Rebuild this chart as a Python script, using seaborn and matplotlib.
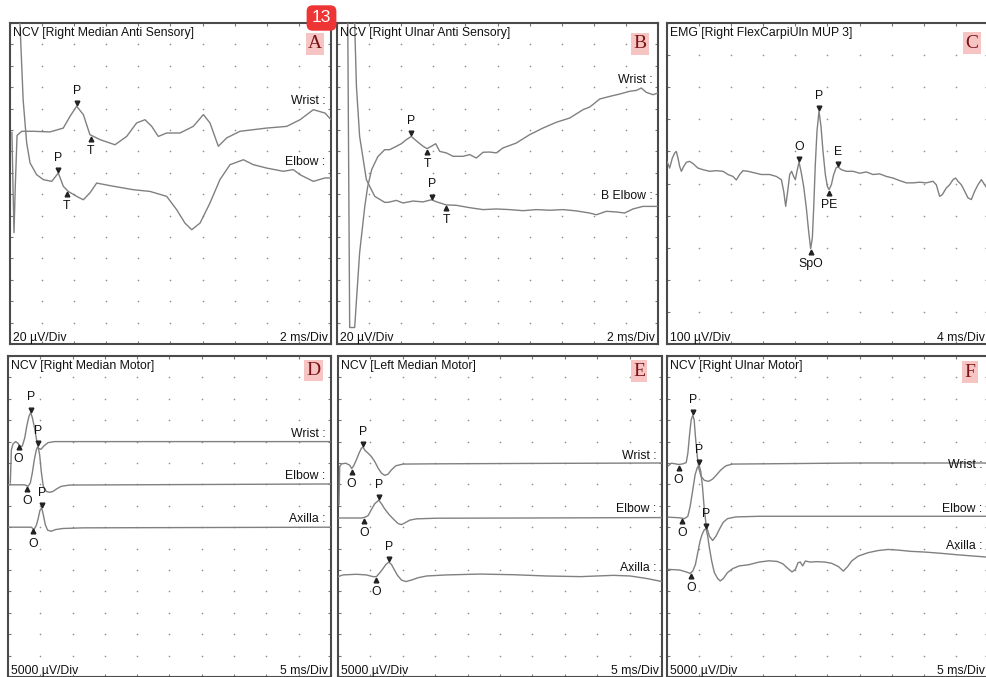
import numpy as np
import pandas as pd
import matplotlib
matplotlib.use("Agg")
import matplotlib.pyplot as plt
import matplotlib.transforms as mtransforms
import seaborn as sns

sns.set_theme(style="white")
plt.rcParams['font.family'] = ['Liberation Sans', 'DejaVu Sans']

# ---------------- DATA (time in ms, amplitude in screen divisions) ----------------
# Panel A: Right Median Anti Sensory (2 ms/Div, 20 uV/Div)
a_wrist_t = [0.12, 0.19, 0.25, 0.33, 0.44, 0.73, 1.45, 2.49, 3.32, 3.74, 4.15, 4.57, 4.98, 5.61, 6.54, 7.27,
             7.89, 8.41, 8.83, 9.24, 9.76, 10.59, 11.42, 12.05, 12.46, 12.98, 13.50, 14.33, 15.99, 17.24,
             18.07, 18.90, 19.63, 20.0]
a_wrist_y = [9.90, 7.2, 5.2, 7.4, 9.75, 9.94, 9.94, 9.91, 10.09, 10.64, 11.11, 10.72, 9.78, 9.55, 9.31, 9.70,
             10.33, 10.48, 10.17, 9.70, 9.86, 9.86, 10.17, 10.72, 10.33, 9.24, 9.63, 9.94, 10.09, 10.17,
             10.48, 10.95, 10.79, 10.48]
a_elbow_t = [0.62, 0.72, 0.82, 0.95, 1.04, 1.25, 1.66, 2.08, 2.60, 3.01, 3.32, 3.63, 4.15, 4.57, 4.98, 5.40,
             6.23, 7.68, 8.72, 9.76, 10.38, 10.90, 11.32, 11.84, 12.46, 13.08, 13.71, 14.54, 15.16, 16.0,
             17.03, 17.65, 18.07, 18.90, 19.63, 20.0]
a_elbow_y = [15.0, 13.2, 11.4, 10.2, 9.39, 8.46, 7.91, 7.68, 7.60, 7.99, 7.37, 7.13, 6.90, 6.74, 7.06, 7.52,
             7.40, 7.21, 7.13, 6.90, 6.28, 5.65, 5.34, 5.65, 6.59, 7.68, 8.38, 8.61, 8.38, 8.22,
             8.07, 8.15, 7.91, 7.60, 7.76, 7.76]
a_chan_names = ['Wrist :', 'Elbow :']
a_chan_y = [11.34, 8.49]
a_mark_t = [4.15, 5.03, 3.01, 3.53]
a_mark_y = [11.11, 9.73, 8.00, 7.18]
a_mark_lbl = ['P', 'T', 'P', 'T']
a_mark_dir = ['v', '^', 'v', '^']

# Panel B: Right Ulnar Anti Sensory (2 ms/Div, 20 uV/Div)
b_wrist_t = [0.67, 0.79, 1.10, 1.41, 1.73, 1.91, 2.16, 2.54, 2.97, 3.28, 3.70, 4.01, 4.32, 4.63, 4.98, 5.36,
             5.61, 5.88, 6.15, 6.40, 6.81, 7.23, 7.85, 8.27, 8.68, 9.10, 9.51, 9.93, 10.34, 11.17, 12.00,
             12.83, 13.66, 14.50, 15.33, 15.74, 16.06, 16.37, 16.99, 17.61, 18.24, 18.65, 18.96, 19.27,
             19.69, 20.0]
b_wrist_y = [15.0, 0.77, 0.77, 4.27, 6.42, 7.35, 8.15, 8.75, 9.08, 9.08, 9.24, 9.36, 9.55, 9.70, 9.47, 9.24,
             9.13, 9.24, 9.36, 9.00, 8.93, 8.77, 8.77, 8.85, 8.69, 8.96, 8.97, 8.93, 9.16, 9.39, 9.78,
             10.09, 10.36, 10.56, 10.95, 11.07, 11.26, 11.45, 11.57, 11.68, 11.81, 11.85, 11.96, 11.76,
             11.65, 11.73]
b_elbow_t = [1.10, 1.21, 1.41, 1.83, 2.35, 2.97, 3.18, 3.70, 4.11, 4.74, 5.36, 5.88, 6.29, 6.81, 7.44, 8.27,
             9.10, 9.93, 10.76, 11.59, 12.42, 13.25, 14.08, 14.91, 15.74, 16.16, 16.78, 17.41, 17.92,
             18.44, 19.06, 20.0]
b_elbow_y = [15.0, 12.04, 9.70, 7.68, 6.90, 6.62, 6.62, 6.71, 6.59, 6.68, 6.64, 6.74, 6.62, 6.50, 6.48, 6.37,
             6.28, 6.31, 6.28, 6.23, 6.28, 6.25, 6.28, 6.22, 6.12, 6.04, 6.20, 6.17, 6.12,
             6.31, 6.43, 6.43]
b_chan_names = ['Wrist :', 'B Elbow :']
b_chan_y = [12.35, 6.90]
b_mark_t = [4.63, 5.61, 5.92, 6.81]
b_mark_y = [9.70, 9.13, 6.74, 6.50]
b_mark_lbl = ['P', 'T', 'P', 'T']
b_mark_dir = ['v', '^', 'v', '^']

# Panel C: EMG Right FlexCarpiUln MUP 3 (4 ms/Div, 100 uV/Div)
c_mup_t = [0.0, 0.33, 0.66, 0.96, 1.16, 1.37, 1.58, 1.79, 2.08, 2.41, 2.82, 3.24, 3.86, 4.49, 5.32, 6.15,
           6.98, 7.60, 8.22, 8.64, 9.05, 9.47, 10.09, 10.92, 11.76, 12.79, 13.62, 14.25, 14.54, 14.79,
           15.04, 15.29, 15.53, 15.78, 15.99, 16.20, 16.45, 16.70, 17.03, 17.36, 17.65, 17.90, 18.11,
           18.28, 18.48, 18.69, 18.94, 19.19, 19.44, 19.73, 19.98, 20.19, 20.48, 20.77, 21.10, 21.35,
           21.72, 22.35, 23.18, 24.01, 24.84, 25.67, 26.50, 27.33, 28.16, 28.99, 29.82, 30.65, 31.48,
           32.31, 33.14, 33.56, 33.97, 34.30, 34.80, 35.22, 35.64, 35.97, 36.26, 36.68, 37.09, 37.51,
           37.92, 38.34, 38.75, 39.17, 39.58, 40.0]
c_mup_y = [5.69, 5.48, 5.79, 5.95, 6.00, 5.79, 5.53, 5.38, 5.53, 5.66, 5.69, 5.62, 5.48, 5.43, 5.38, 5.40,
           5.38, 5.28, 5.22, 5.11, 5.28, 5.40, 5.38, 5.33, 5.28, 5.28, 5.22, 5.12, 4.76, 4.29,
           4.76, 5.28, 5.38, 5.22, 5.12, 5.38, 5.67, 5.38, 4.91, 4.24, 3.51, 2.97, 3.30,
           4.24, 5.59, 6.63, 7.25, 6.78, 6.00, 5.28, 4.91, 4.81, 4.96, 5.28, 5.50, 5.51,
           5.43, 5.38, 5.38, 5.32, 5.36, 5.28, 5.30, 5.22, 5.17, 5.09, 5.02, 5.02, 5.04,
           5.02, 5.07, 4.96, 4.60, 4.65, 4.86, 4.96, 5.12, 5.17, 5.07, 4.96, 4.76, 4.55,
           4.50, 4.76, 4.96, 5.12, 4.96, 4.81]
c_mark_t = [16.45, 18.94, 21.31, 20.19, 17.90]
c_mark_y = [5.67, 7.25, 5.51, 4.81, 2.97]
c_mark_lbl = ['O', 'P', 'E', 'PE', 'SpO']
c_mark_dir = ['v', 'v', 'v', '^', '^']

# Panel D: Right Median Motor (5 ms/Div, 5000 uV/Div)
d_wrist_t = [0.36, 0.52, 0.77, 1.19, 1.55, 1.91, 2.22, 2.58, 2.94, 3.25, 3.51, 3.76, 4.07, 4.38, 4.69, 5.10,
             5.57, 6.19, 7.22, 49.9]
d_wrist_y = [9.06, 10.61, 10.89, 11.00, 10.92, 10.74, 10.80, 11.16, 11.78, 12.19, 12.35, 12.13, 11.70, 11.16,
             10.69, 10.64, 10.80, 10.95, 11.00, 11.00]
d_elbow_t = [0.0, 2.58, 3.09, 3.45, 3.76, 4.07, 4.38, 4.64, 4.90, 5.15, 5.46, 5.93, 6.44, 6.96, 7.58, 8.25,
             9.54, 49.9]
d_elbow_y = [8.98, 8.98, 8.91, 9.06, 9.53, 10.15, 10.61, 10.80, 10.38, 9.60, 8.91, 8.67, 8.63, 8.67, 8.80, 8.91,
             8.97, 9.02]
d_axilla_t = [0.0, 3.61, 4.02, 4.38, 4.69, 4.95, 5.21, 5.46, 5.77, 6.13, 6.70, 7.37, 8.51, 11.60, 49.9]
d_axilla_y = [7.00, 7.00, 6.89, 7.08, 7.43, 7.79, 7.90, 7.59, 7.12, 6.86, 6.81, 6.89, 6.94, 6.97, 7.00]
d_chan_names = ['Wrist :', 'Elbow :', 'Axilla :']
d_chan_y = [11.36, 9.37, 7.36]
d_mark_t = [1.65, 3.51, 2.94, 4.64, 3.87, 5.21]
d_mark_y = [10.88, 12.35, 8.95, 10.80, 6.95, 7.90]
d_mark_lbl = ['O', 'P', 'O', 'P', 'O', 'P']
d_mark_dir = ['^', 'v', '^', 'v', '^', 'v']

# Panel E: Left Median Motor (5 ms/Div, 5000 uV/Div)
e_wrist_t = [0.15, 0.26, 0.57, 1.19, 1.80, 2.11, 2.42, 2.84, 3.25, 3.61, 3.87, 4.18, 4.64, 5.15, 5.67, 6.19,
             6.70, 7.22, 7.73, 8.25, 8.92, 10.05, 14.18, 29.6, 50.0]
e_wrist_y = [8.05, 9.84, 9.96, 9.99, 9.90, 9.74, 9.87, 10.15, 10.46, 10.69, 10.74, 10.58, 10.46, 10.30, 10.07,
             9.76, 9.53, 9.42, 9.48, 9.68, 9.87, 9.95, 9.96, 9.98, 10.0]
e_elbow_t = [0.0, 3.61, 4.12, 4.64, 5.15, 5.67, 6.29, 6.70, 7.22, 7.89, 8.61, 9.28, 9.79, 10.31, 11.08, 12.11,
             15.21, 29.6, 50.0]
e_elbow_y = [7.43, 7.43, 7.46, 7.54, 7.82, 8.10, 8.26, 8.10, 7.85, 7.59, 7.36, 7.17, 7.12, 7.20, 7.33, 7.39,
             7.42, 7.43, 7.45]
e_axilla_t = [0.0, 0.77, 2.84, 4.38, 5.41, 5.93, 6.34, 6.86, 7.37, 7.84, 8.25, 8.66, 9.18, 9.79, 10.46, 11.34,
              12.37, 13.66, 16.75, 21.9, 27.06, 32.2, 37.4, 42.5, 45.1, 47.7, 50.0]
e_axilla_y = [4.69, 4.77, 4.80, 4.77, 4.69, 4.69, 4.83, 5.03, 5.25, 5.37, 5.26, 5.03, 4.75, 4.53, 4.46, 4.53,
              4.64, 4.72, 4.77, 4.81, 4.78, 4.72, 4.69, 4.75, 4.72, 4.60, 4.46]
e_chan_names = ['Wrist :', 'Elbow :', 'Axilla :']
e_chan_y = [10.33, 7.85, 5.08]
e_mark_t = [2.11, 3.87, 4.07, 6.29, 5.82, 7.84]
e_mark_y = [9.74, 10.74, 7.46, 8.26, 4.69, 5.37]
e_mark_lbl = ['O', 'P', 'O', 'P', 'O', 'P']
e_mark_dir = ['^', 'v', '^', 'v', '^', 'v']

# Panel F: Right Ulnar Motor (5 ms/Div, 5000 uV/Div)
f_wrist_t = [0.21, 0.67, 1.34, 1.80, 2.47, 2.99, 3.25, 3.51, 3.76, 4.02, 4.23, 4.43, 4.69, 4.95, 5.31, 5.82,
             6.49, 7.11, 7.73, 8.40, 9.18, 10.21, 14.33, 29.8, 50.0]
f_wrist_y = [9.87, 9.99, 9.96, 9.93, 9.96, 10.02, 10.46, 11.31, 12.01, 12.24, 12.01, 11.23, 10.38, 9.76, 9.37,
             9.19, 9.14, 9.25, 9.45, 9.68, 9.87, 9.95, 9.96, 10.0, 10.0]
f_elbow_t = [0.15, 1.96, 2.73, 3.25, 3.61, 4.02, 4.38, 4.69, 5.00, 5.26, 5.52, 5.77, 6.08, 6.60, 7.11, 7.63,
             8.14, 8.76, 9.43, 10.72, 14.33, 50.0]
f_elbow_y = [7.47, 7.44, 7.40, 7.51, 7.98, 8.75, 9.45, 9.76, 9.91, 9.60, 8.91, 7.98, 7.12, 6.58, 6.38, 6.58,
             6.89, 7.23, 7.40, 7.48, 7.51, 7.51]
f_axilla_t = [0.15, 1.96, 2.99, 3.61, 4.02, 4.43, 4.79, 5.15, 5.46, 5.82, 6.08, 6.34, 6.60, 6.96, 7.37, 7.89,
              8.30, 8.76, 9.43, 10.21, 11.24, 12.78, 14.33, 15.88, 17.16, 18.04, 18.87, 19.48, 20.0, 20.41,
              20.77, 21.13, 21.55, 22.32, 23.35, 24.64, 25.67, 26.70, 27.47, 28.14, 28.76, 29.79, 31.34,
              32.89, 34.43, 35.98, 38.04, 40.10, 42.68, 45.26, 47.84, 50.0]
f_axilla_y = [5.03, 5.00, 4.91, 4.84, 4.95, 5.26, 5.81, 6.35, 6.66, 6.89, 6.92, 6.58, 6.04, 5.42, 4.88, 4.60,
              4.49, 4.60, 4.88, 5.06, 5.19, 5.25, 5.37, 5.43, 5.40, 5.29, 5.06, 4.91, 5.03, 5.34,
              5.37, 5.19, 5.42, 5.37, 5.39, 5.37, 5.31, 5.16, 4.95, 5.16, 5.42, 5.65, 5.81,
              5.91, 5.96, 5.93, 5.87, 5.84, 5.78, 5.71, 5.65, 5.60]
f_chan_names = ['Wrist :', 'Elbow :', 'Axilla :']
f_chan_y = [9.91, 7.85, 6.12]
f_mark_t = [1.80, 4.02, 2.37, 5.00, 3.76, 6.08]
f_mark_y = [9.93, 12.24, 7.42, 9.91, 4.86, 6.92]
f_mark_lbl = ['O', 'P', 'O', 'P', 'O', 'P']
f_mark_dir = ['^', 'v', '^', 'v', '^', 'v']

titles = ['NCV [Right Median Anti Sensory]', 'NCV [Right Ulnar Anti Sensory]', 'EMG [Right FlexCarpiUln MUP 3]',
          'NCV [Right Median Motor]', 'NCV [Left Median Motor]', 'NCV [Right Ulnar Motor]']
letters = ['A', 'B', 'C', 'D', 'E', 'F']
amp_labels = ['20 µV/Div', '20 µV/Div', '100 µV/Div', '5000 µV/Div', '5000 µV/Div', '5000 µV/Div']
time_labels = ['2 ms/Div', '2 ms/Div', '4 ms/Div', '5 ms/Div', '5 ms/Div', '5 ms/Div']
ms_per_div = [2, 2, 4, 5, 5, 5]
y_divs = [15, 15, 10, 15, 15, 15]

# ---------------- LAYOUT ----------------
W, H = 987, 677
fig = plt.figure(figsize=(W / 100, H / 100), dpi=100)
fig.patch.set_facecolor('white')

boxes = [(10, 23, 331, 344), (337, 23, 658, 344), (667, 23, 988, 344),
         (8, 356, 331, 677), (338, 356, 662, 677), (667, 356, 988, 677)]
letter_pos = [(0.950, 0.935), (0.944, 0.935), (0.950, 0.937),
              (0.947, 0.955), (0.929, 0.953), (0.944, 0.950)]

panel_traces = [
    [(a_wrist_t, a_wrist_y), (a_elbow_t, a_elbow_y)],
    [(b_wrist_t, b_wrist_y), (b_elbow_t, b_elbow_y)],
    [(c_mup_t, c_mup_y)],
    [(d_wrist_t, d_wrist_y), (d_elbow_t, d_elbow_y), (d_axilla_t, d_axilla_y)],
    [(e_wrist_t, e_wrist_y), (e_elbow_t, e_elbow_y), (e_axilla_t, e_axilla_y)],
    [(f_wrist_t, f_wrist_y), (f_elbow_t, f_elbow_y), (f_axilla_t, f_axilla_y)],
]
panel_chans = [(a_chan_names, a_chan_y), (b_chan_names, b_chan_y), ([], []),
               (d_chan_names, d_chan_y), (e_chan_names, e_chan_y), (f_chan_names, f_chan_y)]
panel_marks = [(a_mark_t, a_mark_y, a_mark_lbl, a_mark_dir), (b_mark_t, b_mark_y, b_mark_lbl, b_mark_dir),
               (c_mark_t, c_mark_y, c_mark_lbl, c_mark_dir), (d_mark_t, d_mark_y, d_mark_lbl, d_mark_dir),
               (e_mark_t, e_mark_y, e_mark_lbl, e_mark_dir), (f_mark_t, f_mark_y, f_mark_lbl, f_mark_dir)]

TRACE = '#808080'
FRAME = '#4a4a4a'
TXT = '#111111'
FS = 8.8

for i in range(6):
    l, t, r, b = boxes[i]
    ax = fig.add_axes([l / W, 1 - b / H, (r - l) / W, (b - t) / H])
    xmax = 10 * ms_per_div[i]
    ny = y_divs[i]
    ax.set_xlim(0, xmax)
    ax.set_ylim(0, ny)
    ax.set_facecolor('white')
    for s in ax.spines.values():
        s.set_visible(True)
        s.set_color(FRAME)
        s.set_linewidth(1.5)
    ax.set_xticks(np.arange(0, 11) * ms_per_div[i])
    ax.set_yticks(np.arange(0, ny + 1))
    ax.tick_params(direction='in', length=2.5, width=0.8, color='#777777',
                   labelbottom=False, labelleft=False, top=True, right=True, bottom=True, left=True)

    # grid dots
    gx, gy = np.meshgrid(np.arange(1, 10) * ms_per_div[i], np.arange(1, ny))
    ax.scatter(gx.ravel(), gy.ravel(), s=1.4, color='#8f8f8f', linewidths=0, zorder=1)

    # traces
    for (tt, yy) in panel_traces[i]:
        df = pd.DataFrame({'t': tt, 'y': yy})
        sns.lineplot(data=df, x='t', y='y', ax=ax, color=TRACE, lw=1.0, sort=False,
                     estimator=None, legend=False, zorder=3)
    ax.set_xlabel('')
    ax.set_ylabel('')

    # markers and labels
    mt, my, ml, md = panel_marks[i]
    for tt, yy, lab, d in zip(mt, my, ml, md):
        if d == 'v':
            off, loff = 2.3, 11.0
        else:
            off, loff = -2.3, -11.0
        tr = mtransforms.offset_copy(ax.transData, fig=fig, x=0, y=off, units='points')
        ax.plot([tt], [yy], marker=d, ms=3.4, color='#222222', ls='none', transform=tr, zorder=4)
        ax.annotate(lab, (tt, yy), xytext=(0, loff), textcoords='offset points',
                    ha='center', va='center', fontsize=FS, color=TXT, zorder=5)

    # channel labels
    names, ys = panel_chans[i]
    for nm, yy in zip(names, ys):
        ax.text(0.983, yy, nm, transform=ax.get_yaxis_transform(), ha='right', va='center',
                fontsize=FS, color=TXT)

    # title and scale texts
    ax.annotate(titles[i], (0, 1), xycoords='axes fraction', xytext=(2.3, -7.5),
                textcoords='offset points', ha='left', va='center', fontsize=FS, color=TXT)
    ax.annotate(amp_labels[i], (0, 0), xycoords='axes fraction', xytext=(2.3, 4.6),
                textcoords='offset points', ha='left', va='center', fontsize=FS, color=TXT)
    ax.annotate(time_labels[i], (1, 0), xycoords='axes fraction', xytext=(-2.3, 4.6),
                textcoords='offset points', ha='right', va='center', fontsize=FS, color=TXT)

    # panel letter
    lx, ly = letter_pos[i]
    ax.text(lx, ly, letters[i], transform=ax.transAxes, ha='center', va='center',
            fontsize=14, family=['Liberation Serif', 'DejaVu Serif'], color='#7a1414', zorder=6,
            bbox=dict(boxstyle='square,pad=0.12', facecolor='#f7c4c4', edgecolor='none'))

# badge
fig.text(321.5 / W, 1 - 18 / H, '13', ha='center', va='center', fontsize=12.5, color='white',
         bbox=dict(boxstyle='round,pad=0.3,rounding_size=0.35', facecolor='#ee3535', edgecolor='none'),
         zorder=10)

fig.savefig('out.png', dpi=100, facecolor='white')
